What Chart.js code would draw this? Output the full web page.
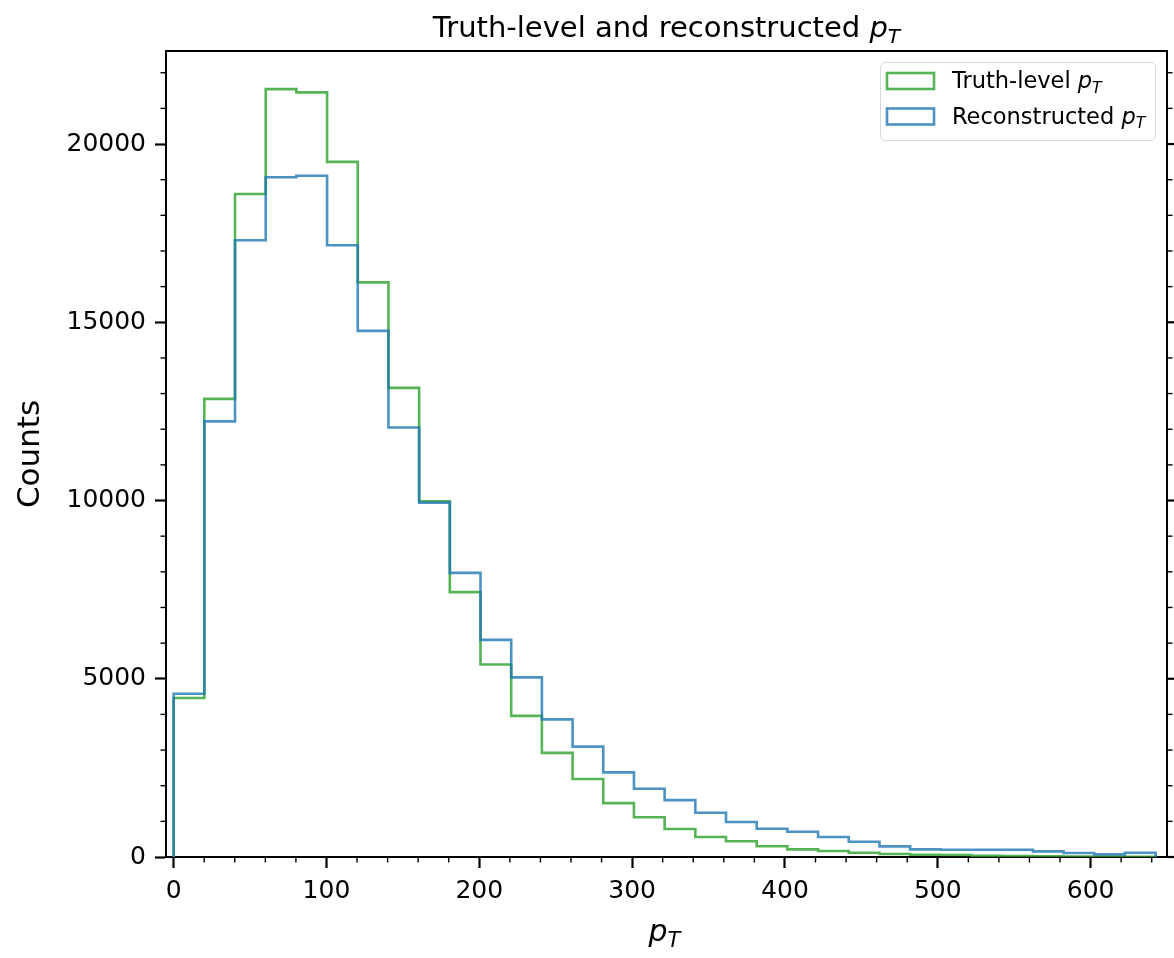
<!DOCTYPE html>
<html>
<head>
<meta charset="utf-8">
<title>Truth-level and reconstructed pT</title>
<script src="https://cdn.jsdelivr.net/npm/chart.js@4.4.1/dist/chart.umd.min.js"></script>
<style>
  html, body { margin: 0; padding: 0; background: #fff; }
  #wrap { width: 1174px; height: 958px; }
</style>
</head>
<body>
<div id="wrap"><canvas id="ptChart" width="1174" height="958"></canvas></div>
<script>
// bin edges in pT (32 bins)
const binEdges = [0, 20.08, 40.16, 60.24, 80.32, 100.4, 120.48, 140.56, 160.64, 180.72,
  200.8, 220.88, 240.96, 261.04, 281.12, 301.2, 321.28, 341.36, 361.44, 381.52,
  401.6, 421.68, 441.76, 461.84, 481.92, 502, 522.08, 542.16, 562.24, 582.32,
  602.4, 622.48, 642.56];

const truthCounts = [4460, 12850, 18600, 21540, 21450, 19500, 16120, 13160, 9980, 7430,
  5400, 3960, 2920, 2190, 1510, 1115, 785, 560, 440, 300,
  215, 168, 121, 84, 65, 56, 37, 30, 22, 15,
  10, 6];

const recoCounts = [4580, 12220, 17300, 19070, 19110, 17160, 14760, 12050, 9940, 7970,
  6090, 5040, 3860, 3095, 2375, 1913, 1596, 1241, 980, 793,
  709, 560, 429, 299, 215, 205, 205, 205, 159, 112,
  75, 121];

const xMajorTicks = [0, 100, 200, 300, 400, 500, 600];
const yMajorTicks = [0, 5000, 10000, 15000, 20000];

const FONT = "'DejaVu Sans', sans-serif";
const GREEN = 'rgba(44, 160, 44, 0.8)';
const BLUE = 'rgba(31, 119, 180, 0.8)';

// histtype='step' outline: start and end on the zero line
function stepPoints(edges, counts) {
  const pts = [{ x: edges[0], y: 0 }];
  counts.forEach((c, i) => pts.push({ x: edges[i], y: c }));
  pts.push({ x: edges[edges.length - 1], y: 0 });
  return pts;
}

// text with an italic p and subscript T, like matplotlib mathtext
function ptParts(size, prefix) {
  return [
    { text: prefix, font: `${size}px ${FONT}` },
    { text: 'p', font: `italic ${size}px ${FONT}` },
    { text: 'T', font: `italic ${size * 0.7}px ${FONT}`, dy: size * 0.2 }
  ];
}

function drawRich(ctx, parts, x, y, align) {
  let w = 0;
  parts.forEach(p => { ctx.font = p.font; w += ctx.measureText(p.text).width; });
  let cx = align === 'center' ? x - w / 2 : x;
  ctx.textAlign = 'left';
  ctx.textBaseline = 'alphabetic';
  parts.forEach(p => {
    ctx.font = p.font;
    ctx.fillText(p.text, cx, y + (p.dy || 0));
    cx += ctx.measureText(p.text).width;
  });
}

function tick(ctx, x1, y1, x2, y2) {
  ctx.beginPath();
  ctx.moveTo(x1, y1);
  ctx.lineTo(x2, y2);
  ctx.stroke();
}

// spines, minor ticks, right ticks, title, x label and legend
const axesDecor = {
  id: 'axesDecor',
  afterDraw(chart) {
    const { ctx, chartArea: a, scales: { x, y } } = chart;
    ctx.save();
    ctx.strokeStyle = '#000';
    ctx.fillStyle = '#000';

    ctx.lineWidth = 2;
    ctx.beginPath();
    ctx.moveTo(a.left, a.top);
    ctx.lineTo(a.right, a.top);
    ctx.lineTo(a.right, a.bottom);
    ctx.stroke();

    // minor ticks
    ctx.lineWidth = 1.4;
    for (let v = 20; v <= 640; v += 20) {
      if (v % 100 === 0) continue;
      const px = x.getPixelForValue(v);
      tick(ctx, px, a.bottom, px, a.bottom + 5.5);
    }
    for (let v = 1000; v <= 22000; v += 1000) {
      const py = y.getPixelForValue(v);
      if (v % 5000 !== 0) {
        tick(ctx, a.left, py, a.left - 5.5, py);
        tick(ctx, a.right, py, a.right + 5.5, py);
      }
    }
    // right side major ticks
    ctx.lineWidth = 2.2;
    yMajorTicks.forEach(v => {
      const py = y.getPixelForValue(v);
      tick(ctx, a.right, py, a.right + 11, py);
    });

    // title and x label
    drawRich(ctx, ptParts(29, 'Truth-level and reconstructed '), (a.left + a.right) / 2, 37, 'center');
    drawRich(ctx, ptParts(30, ''), (a.left + a.right) / 2 - 2, 941, 'center');

    // legend
    const lx = 880.5, ly = 62.5, lw = 275, lh = 78;
    ctx.beginPath();
    ctx.roundRect(lx, ly, lw, lh, 5);
    ctx.fillStyle = 'rgba(255,255,255,0.8)';
    ctx.fill();
    ctx.strokeStyle = '#d8d8d8';
    ctx.lineWidth = 1;
    ctx.stroke();

    const entries = [
      { color: GREEN, prefix: 'Truth-level ' },
      { color: BLUE, prefix: 'Reconstructed ' }
    ];
    entries.forEach((e, i) => {
      const top = 73 + i * 35.5;
      ctx.fillStyle = '#fff';
      ctx.fillRect(887, top, 47, 16);
      ctx.strokeStyle = e.color;
      ctx.lineWidth = 2.6;
      ctx.strokeRect(887, top, 47, 16);
      ctx.fillStyle = '#000';
      drawRich(ctx, ptParts(22.5, e.prefix), 952, top + 15, 'left');
    });

    ctx.restore();
  }
};

const tickFont = { family: FONT, size: 25 };

new Chart(document.getElementById('ptChart'), {
  type: 'line',
  data: {
    datasets: [
      {
        label: 'Truth-level pT',
        data: stepPoints(binEdges, truthCounts),
        borderColor: GREEN,
        backgroundColor: '#fff',
        borderWidth: 2.6,
        stepped: true,
        pointRadius: 0,
        fill: false,
        order: 1
      },
      {
        label: 'Reconstructed pT',
        data: stepPoints(binEdges, recoCounts),
        borderColor: BLUE,
        backgroundColor: '#fff',
        borderWidth: 2.6,
        stepped: true,
        pointRadius: 0,
        fill: false,
        order: 0
      }
    ]
  },
  options: {
    responsive: false,
    animation: false,
    devicePixelRatio: 1,
    layout: { padding: { top: 51, right: 7, left: 0, bottom: 0 } },
    plugins: {
      legend: { display: false },
      tooltip: { enabled: false },
      title: { display: false }
    },
    scales: {
      x: {
        type: 'linear',
        min: -5,
        max: 650,
        afterFit(scale) { scale.height = 101; },
        afterBuildTicks(scale) { scale.ticks = xMajorTicks.map(v => ({ value: v })); },
        ticks: {
          font: tickFont,
          color: '#000',
          padding: 8,
          maxRotation: 0,
          autoSkip: false,
          callback: v => String(v)
        },
        grid: { drawOnChartArea: false, tickLength: 11, tickWidth: 2.2, tickColor: '#000' },
        border: { color: '#000', width: 2 }
      },
      y: {
        min: 0,
        max: 22610,
        afterFit(scale) { scale.width = 166; },
        afterBuildTicks(scale) { scale.ticks = yMajorTicks.map(v => ({ value: v })); },
        title: {
          display: true,
          text: 'Counts',
          color: '#000',
          font: { family: FONT, size: 31 },
          padding: { top: 12, bottom: 4 }
        },
        ticks: {
          font: tickFont,
          color: '#000',
          padding: 9,
          autoSkip: false,
          callback: v => String(v)
        },
        grid: { drawOnChartArea: false, tickLength: 11, tickWidth: 2.2, tickColor: '#000' },
        border: { color: '#000', width: 2 }
      }
    }
  },
  plugins: [axesDecor]
});
</script>
</body>
</html>
